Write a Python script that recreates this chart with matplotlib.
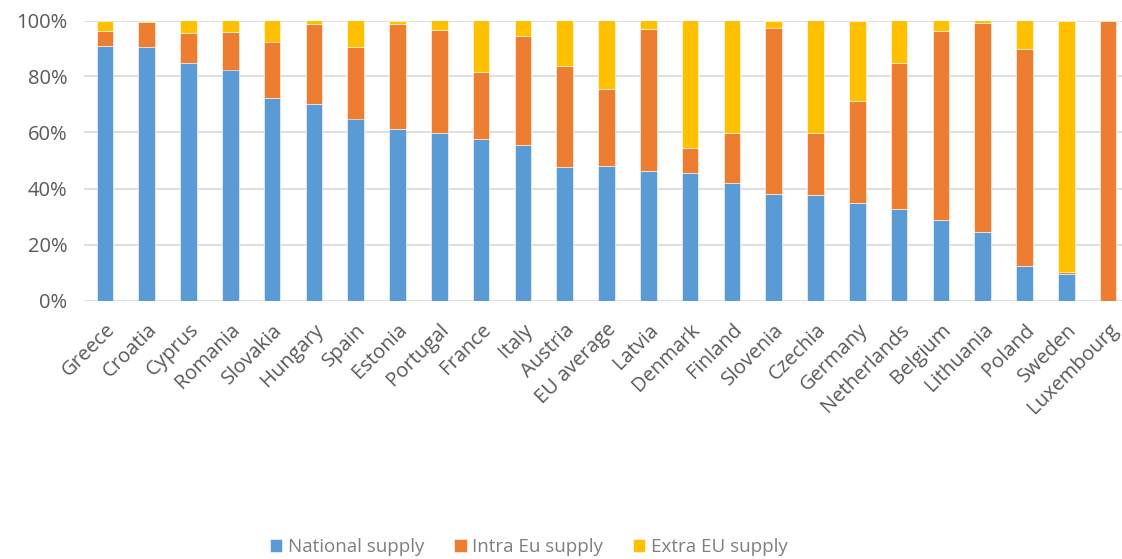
import numpy as np
import matplotlib
matplotlib.use("Agg")
import matplotlib.pyplot as plt
from matplotlib.ticker import PercentFormatter

# Supply shares per country (percent)
countries = ['Greece', 'Croatia', 'Cyprus', 'Romania', 'Slovakia', 'Hungary', 'Spain',
             'Estonia', 'Portugal', 'France', 'Italy', 'Austria', 'EU average', 'Latvia',
             'Denmark', 'Finland', 'Slovenia', 'Czechia', 'Germany', 'Netherlands',
             'Belgium', 'Lithuania', 'Poland', 'Sweden', 'Luxembourg']
national = [90.8, 90.6, 84.7, 82.5, 72.2, 70.2, 65.0, 61.1, 59.9, 57.6, 55.6, 47.7, 47.9,
            46.1, 45.4, 41.9, 37.9, 37.6, 34.8, 32.7, 28.9, 24.6, 12.3, 9.3, 0.0]
intra_eu = [5.3, 8.7, 10.8, 13.3, 20.3, 28.7, 25.7, 37.5, 36.7, 24.0, 38.7, 36.1, 27.7,
            51.0, 8.9, 17.9, 59.6, 22.2, 36.5, 52.2, 67.4, 74.5, 77.6, 0.9, 99.7]
extra_eu = [3.9, 0.7, 4.5, 4.2, 7.5, 1.1, 9.3, 1.4, 3.4, 18.4, 5.7, 16.2, 24.4,
            2.9, 45.7, 40.2, 2.5, 40.2, 28.7, 15.1, 3.7, 0.9, 10.1, 89.8, 0.3]

series_names = ['National supply', 'Intra Eu supply', 'Extra EU supply']
colors = ['#5B9BD5', '#ED7D31', '#FFC000']

plt.rcParams['font.family'] = ['Open Sans', 'DejaVu Sans']

fig = plt.figure(figsize=(11.22, 5.59), dpi=100)
ax = fig.add_axes([84 / 1122, 1 - 300.5 / 559, 1045 / 1122, 280 / 559])

x = np.arange(len(countries))
bottom = np.zeros(len(countries))
for vals, name, col in zip([national, intra_eu, extra_eu], series_names, colors):
    ax.bar(x, vals, width=0.4, bottom=bottom, color=col, label=name,
           edgecolor='white', linewidth=0.4, zorder=3)
    bottom += np.array(vals)

ax.set_xlim(-0.5, len(countries) - 0.5)
ax.set_ylim(0, 100)
ax.set_yticks(np.arange(0, 101, 20))
ax.yaxis.set_major_formatter(PercentFormatter(decimals=0))
ax.grid(axis='y', color='#D9D9D9', linewidth=1.2, zorder=0)
for s in ax.spines.values():
    s.set_visible(False)
ax.tick_params(length=0, labelsize=14.5, labelcolor='#595959')
ax.tick_params(axis='y', pad=12)
ax.tick_params(axis='x', pad=14)
ax.set_xticks(x)
ax.set_xticklabels(countries, rotation=45, ha='right', rotation_mode='anchor')

fig.legend(loc='center', bbox_to_anchor=(529 / 1122, 1 - 547 / 559), ncol=3,
           frameon=False, fontsize=13.5, handlelength=0.65, handleheight=0.65,
           handletextpad=0.3, columnspacing=1.6, labelcolor='#7F7F7F')

fig.savefig('out.png', dpi=100)
